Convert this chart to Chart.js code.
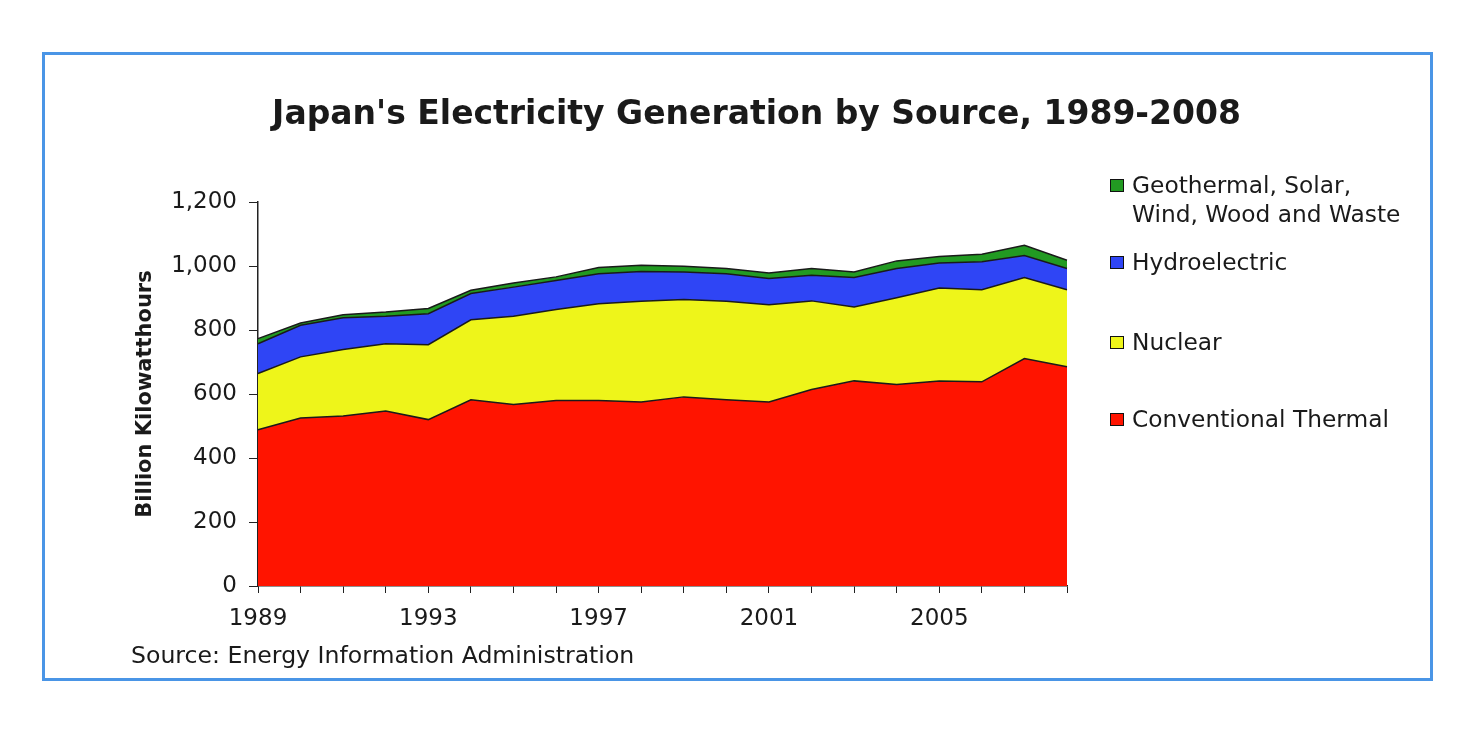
<!DOCTYPE html>
<html lang="en">

<head>
    <meta charset="UTF-8">
    <title>Japan's Electricity Generation by Source, 1989-2008</title>
    <style>
        body {
            margin: 0;
            padding: 0;
            background: #fff;
            font-family: "DejaVu Sans", sans-serif;
            color: #1a1a1a;
        }

        #frame {
            position: absolute;
            left: 42px;
            top: 52px;
            width: 1385px;
            height: 623px;
            border: 3px solid #4a95e6;
        }

        #title {
            position: absolute;
            left: 0;
            width: 1513px;
            top: 96px;
            text-align: center;
            font-size: 33px;
            font-weight: bold;
            line-height: 1;
            white-space: nowrap;
        }

        canvas {
            position: absolute;
            left: 0;
            top: 0;
        }

        .item {
            position: absolute;
            left: 1132px;
            font-size: 23.3px;
            line-height: 29px;
            white-space: nowrap;
        }

        .box {
            position: absolute;
            left: -22px;
            top: 9px;
            width: 12px;
            height: 11px;
            border: 1px solid #111;
        }

        #source {
            position: absolute;
            left: 131px;
            top: 641px;
            font-size: 23.6px;
            line-height: 29px;
            white-space: nowrap;
        }
    </style>
</head>

<body>
    <div id="frame"></div>
    <canvas id="genChart" width="1478" height="742"></canvas>
    <div id="title">Japan's Electricity Generation by Source, 1989-2008</div>
    <div id="legend"></div>
    <div id="source">Source: Energy Information Administration</div>

    <script src="https://cdn.jsdelivr.net/npm/chart.js"></script>

    <script>
        // values, billion kWh
        const years = ['1989', '1990', '1991', '1992', '1993', '1994', '1995', '1996', '1997', '1998',
            '1999', '2000', '2001', '2002', '2003', '2004', '2005', '2006', '2007', '2008'];
        const thermal = [488, 525, 531, 547, 520, 582, 567, 580, 580, 575, 591, 582, 575, 614, 641, 630, 641, 638, 711, 685];
        const nuclear = [176, 191, 208, 210, 234, 250, 276, 284, 302, 315, 304, 308, 304, 277, 231, 271, 290, 288, 253, 241];
        const hydro = [93, 99, 99, 86, 97, 82, 91, 91, 94, 93, 86, 86, 82, 80, 92, 91, 78, 87, 69, 66];
        const geoOther = [16, 7, 10, 13, 16, 10, 13, 11, 19, 19, 18, 16, 17, 21, 17, 24, 21, 24, 32, 26];
        const yTicks = [0, 200, 400, 600, 800, 1000, 1200];

        const seriesNames = ['Conventional Thermal', 'Nuclear', 'Hydroelectric', 'Geothermal, Solar,\nWind, Wood and Waste'];
        const colors = ['#ff1400', '#eef51a', '#2f45f5', '#229a22'];

        // legend (top item first, as in the original)
        const legendTops = [404, 327, 247, 170];
        const legend = document.getElementById('legend');
        seriesNames.forEach((name, i) => {
            const div = document.createElement('div');
            div.className = 'item';
            div.style.top = legendTops[i] + 'px';
            div.innerHTML = '<span class="box" style="background:' + colors[i] + '"></span>' +
                name.replace('\n', '<br>');
            legend.appendChild(div);
        });

        const ctx = document.getElementById('genChart').getContext('2d');
        const fontFamily = '"DejaVu Sans", sans-serif';

        new Chart(ctx, {
            type: 'line',
            data: {
                labels: years,
                datasets: [thermal, nuclear, hydro, geoOther].map((values, i) => ({
                    label: seriesNames[i],
                    data: values,
                    backgroundColor: colors[i],
                    borderColor: '#1a1a1a',
                    borderWidth: 1.5,
                    pointRadius: 0,
                    tension: 0,
                    fill: i === 0 ? 'origin' : '-1'
                }))
            },
            options: {
                responsive: false,
                animation: false,
                devicePixelRatio: 1,
                layout: {
                    padding: { left: 0, top: 202, right: 411, bottom: 106 }
                },
                plugins: {
                    legend: { display: false },
                    title: { display: false },
                    tooltip: { enabled: false }
                },
                scales: {
                    x: {
                        offset: false,
                        afterFit: scale => { scale.height = 50; },
                        grid: {
                            drawOnChartArea: false,
                            drawTicks: true,
                            tickLength: 7,
                            color: '#222'
                        },
                        border: { display: true, color: '#222', width: 1.5 },
                        ticks: {
                            autoSkip: false,
                            maxRotation: 0,
                            padding: 12,
                            color: '#1a1a1a',
                            font: { family: fontFamily, size: 23 },
                            callback: function (value, index) {
                                return index % 4 === 0 ? this.getLabelForValue(value) : '';
                            }
                        }
                    },
                    y: {
                        stacked: true,
                        min: yTicks[0],
                        max: yTicks[yTicks.length - 1],
                        afterFit: scale => { scale.width = 258; },
                        grid: {
                            drawOnChartArea: false,
                            drawTicks: true,
                            tickLength: 9,
                            color: '#222'
                        },
                        border: { display: true, color: '#222', width: 1.5 },
                        ticks: {
                            stepSize: 200,
                            padding: 12,
                            color: '#1a1a1a',
                            font: { family: fontFamily, size: 23 },
                            callback: value => value.toLocaleString('en-US')
                        },
                        title: {
                            display: true,
                            text: 'Billion Kilowatthours',
                            color: '#1a1a1a',
                            padding: { top: 133, bottom: 0 },
                            font: { family: fontFamily, size: 21, weight: 'bold' }
                        }
                    }
                }
            }
        });
    </script>
</body>

</html>
